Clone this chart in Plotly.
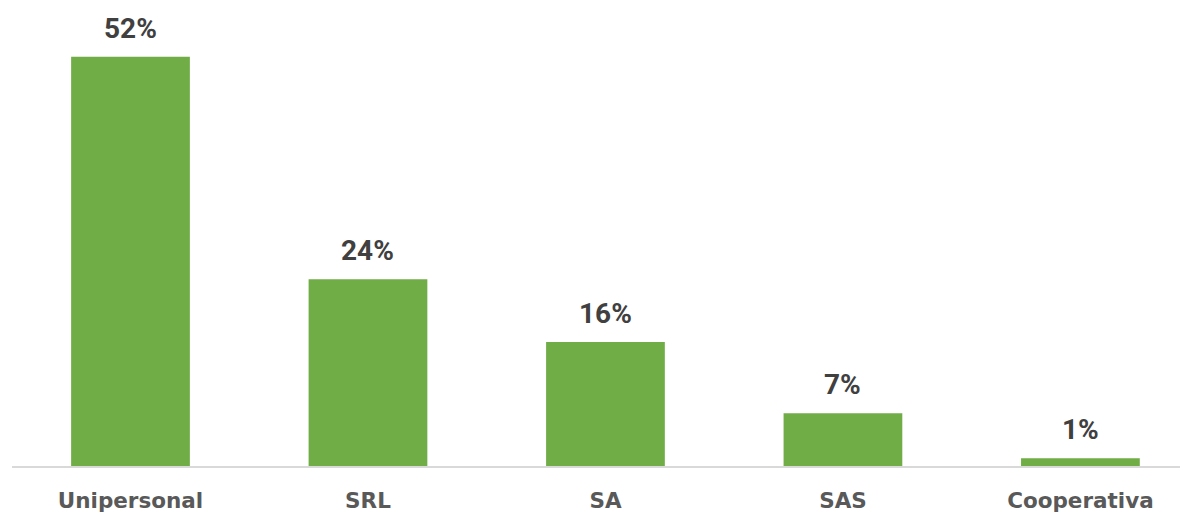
import plotly.graph_objects as go

categories = ["Unipersonal", "SRL", "SA", "SAS", "Cooperativa"]
values = [52.8, 24.1, 16.0, 6.8, 1.0]
value_labels = ["52%", "24%", "16%", "7%", "1%"]

BAR = "#70AD47"
VAL_FONT = "Roboto"
CAT_FONT = "DejaVu Sans"

fig = go.Figure()
fig.add_trace(go.Bar(
    x=categories, y=values, marker=dict(color=BAR, line=dict(width=0)),
    width=0.5, hoverinfo="skip",
))
for c, v, t in zip(categories, values, value_labels):
    fig.add_annotation(x=c, y=v, text=f"<b>{t}</b>", showarrow=False,
                       yanchor="bottom", yshift=10,
                       font=dict(family=VAL_FONT, size=28, color="#404040"))

# page body has an 8px default margin; figure sized to fill the rest
fig.update_layout(
    width=1180, height=506,
    margin=dict(l=4, r=0, t=0, b=48),
    paper_bgcolor="white", plot_bgcolor="white",
    showlegend=False,
    font=dict(family=VAL_FONT),
    xaxis=dict(
        type="category", range=[-0.499, 4.453], automargin=False,
        showgrid=False, showline=True, linecolor="#D9D9D9", linewidth=2,
        ticks="", tickfont=dict(family=CAT_FONT, size=21.5, color="#595959"),
        tickvals=categories, ticktext=[f"<b>{c}</b>" for c in categories],
        ticklabelstandoff=14,
    ),
    yaxis=dict(range=[0, 59.1], visible=False, showgrid=False, zeroline=False,
               automargin=False),
)
fig.write_html("out.html")
